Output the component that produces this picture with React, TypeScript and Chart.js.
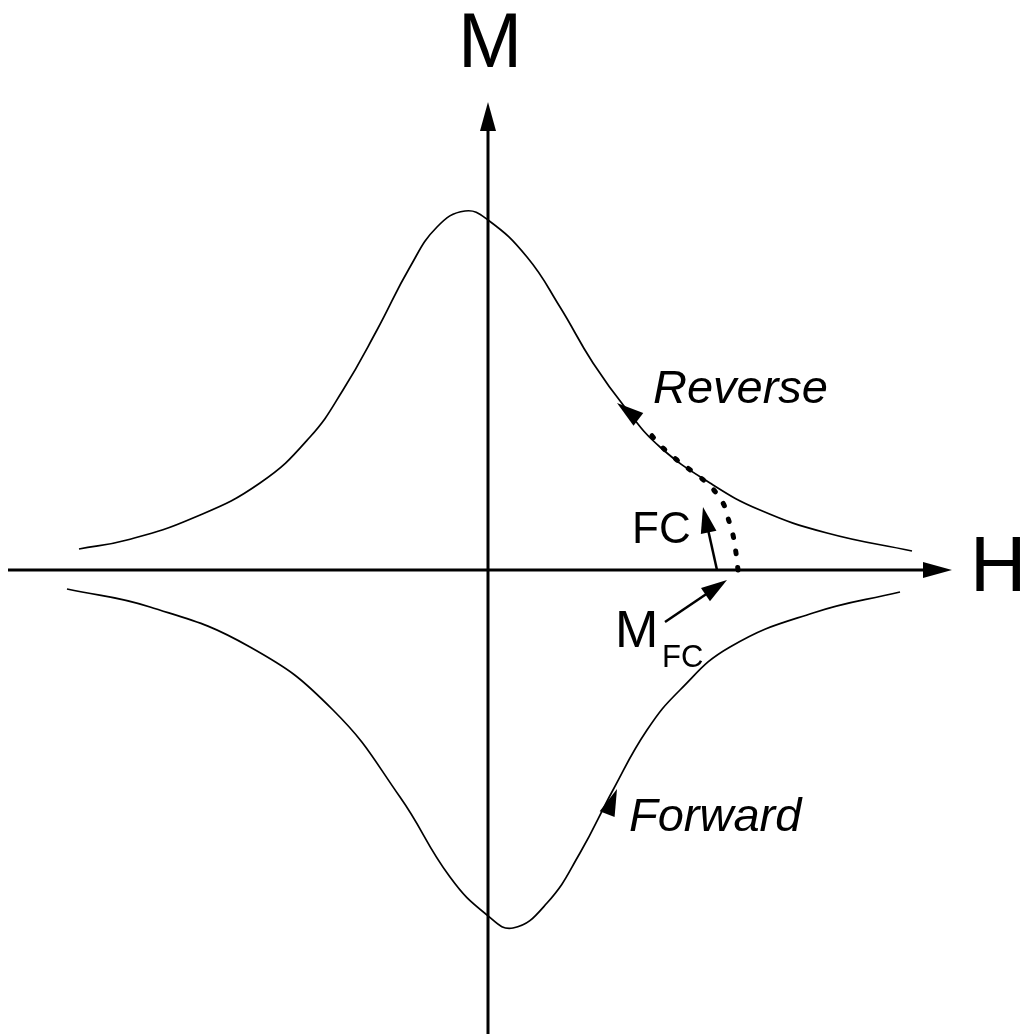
import React, { useEffect, useRef } from "react";
import { Chart, registerables } from "chart.js";

Chart.register(...registerables);

// Reverse branch (upper curve): H, M
const reverseH = [-4.09, -3.61, -2.95, -2.28, -1.78, -1.45, -1.11, -0.78, -0.51, -0.23, 0, 0.39, 0.72, 1.05, 1.39, 1.72, 2.22, 2.72, 3.39, 4.24];
const reverseM = [0.21, 0.3, 0.52, 0.87, 1.33, 1.8, 2.4, 3.03, 3.43, 3.59, 3.5, 3.13, 2.63, 2.07, 1.6, 1.23, 0.87, 0.6, 0.37, 0.19];

// Forward branch (lower curve): H, M
const forwardH = [-4.21, -3.38, -2.38, -1.55, -0.88, -0.38, -0.01, 0.25, 0.59, 0.92, 1.25, 1.59, 1.92, 2.42, 3.25, 4.12];
const forwardM = [-0.19, -0.37, -0.77, -1.4, -2.27, -3.07, -3.45, -3.58, -3.33, -2.83, -2.2, -1.6, -1.2, -0.77, -0.43, -0.22];

// Field-cooled (dotted) branch: H, M
const fcH = [2.5, 2.48, 2.45, 2.4, 2.35, 2.22, 2.05, 1.89, 1.72, 1.57];
const fcM = [0, 0.17, 0.35, 0.52, 0.67, 0.84, 0.98, 1.1, 1.25, 1.43];

// Axis extents
const hAxisRange = [-4.8, 4.64];
const mAxisRange = [-4.64, 4.68];

// Annotation arrows with shafts: [fromH, fromM, toH, toM]
const arrows = [
  [2.29, 0, 2.15, 0.63],
  [1.77, -0.52, 2.39, -0.1],
];
// Arrowheads sitting on the curves: [fromH, fromM, toH, toM]
const curveHeads = [
  [1.55, 1.47, 1.29, 1.67],
  [1.18, -2.47, 1.29, -2.19],
];

// Labels: text, H, M
const labelTexts = ["Reverse", "Forward", "FC", "M", "FC", "H", "M"];
const labelH = [1.65, 1.41, 1.44, 1.27, 1.74, 4.82, 0.02];
const labelM = [1.67, -2.61, 0.27, -0.77, -0.97, -0.21, 5.03];

const FONT = "'Liberation Sans', Arial, Helvetica, sans-serif";
const labelFonts = [
  `italic 47px ${FONT}`,
  `italic 47px ${FONT}`,
  `44px ${FONT}`,
  `52px ${FONT}`,
  `31px ${FONT}`,
  `78px ${FONT}`,
  `77px ${FONT}`,
];
const labelAlign: CanvasTextAlign[] = ["left", "left", "left", "left", "left", "left", "center"];

const zip = (xs: number[], ys: number[]) => xs.map((x, i) => ({ x, y: ys[i] }));

function drawHead(ctx: CanvasRenderingContext2D, fx: number, fy: number, tx: number, ty: number, len: number, hw: number) {
  const a = Math.atan2(ty - fy, tx - fx);
  const bx = tx - len * Math.cos(a);
  const by = ty - len * Math.sin(a);
  const nx = -Math.sin(a);
  const ny = Math.cos(a);
  ctx.beginPath();
  ctx.moveTo(tx, ty);
  ctx.lineTo(bx + nx * hw, by + ny * hw);
  ctx.lineTo(bx - nx * hw, by - ny * hw);
  ctx.closePath();
  ctx.fill();
}

const annotationPlugin = {
  id: "schematicAnnotations",
  afterDatasetsDraw(chart: any) {
    const { ctx, scales } = chart;
    const xs = scales.x;
    const ys = scales.y;
    const px = (v: number) => xs.getPixelForValue(v);
    const py = (v: number) => ys.getPixelForValue(v);
    ctx.save();
    ctx.fillStyle = "#000";
    ctx.strokeStyle = "#000";
    // axis arrowheads
    drawHead(ctx, px(0), py(0), px(hAxisRange[1]), py(0), 29, 8);
    drawHead(ctx, px(0), py(0), px(0), py(mAxisRange[1]), 29, 8);
    // annotation arrows
    ctx.lineWidth = 2.5;
    arrows.forEach(([fh, fm, th, tm]) => {
      const fx = px(fh), fy = py(fm), tx = px(th), ty = py(tm);
      const a = Math.atan2(ty - fy, tx - fx);
      ctx.beginPath();
      ctx.moveTo(fx, fy);
      ctx.lineTo(tx - 20 * Math.cos(a), ty - 20 * Math.sin(a));
      ctx.stroke();
      drawHead(ctx, fx, fy, tx, ty, 26, 8);
    });
    curveHeads.forEach(([fh, fm, th, tm]) => {
      drawHead(ctx, px(fh), py(fm), px(th), py(tm), 27, 8);
    });
    // labels
    ctx.textBaseline = "alphabetic";
    labelTexts.forEach((t, i) => {
      ctx.font = labelFonts[i];
      ctx.textAlign = labelAlign[i];
      ctx.fillText(t, px(labelH[i]), py(labelM[i]));
    });
    ctx.restore();
  },
};

export default function App() {
  const ref = useRef<HTMLCanvasElement>(null);
  useEffect(() => {
    if (!ref.current) return;
    const chart = new Chart(ref.current, {
      type: "scatter",
      data: {
        datasets: [
          {
            data: [{ x: hAxisRange[0], y: 0 }, { x: hAxisRange[1] - 0.1, y: 0 }],
            showLine: true,
            borderColor: "#000",
            borderWidth: 3,
            pointRadius: 0,
          },
          {
            data: [{ x: 0, y: mAxisRange[0] }, { x: 0, y: mAxisRange[1] - 0.1 }],
            showLine: true,
            borderColor: "#000",
            borderWidth: 3,
            pointRadius: 0,
          },
          {
            data: zip(reverseH, reverseM),
            showLine: true,
            borderColor: "#000",
            borderWidth: 1.7,
            pointRadius: 0,
            tension: 0.45,
          },
          {
            data: zip(forwardH, forwardM),
            showLine: true,
            borderColor: "#000",
            borderWidth: 1.7,
            pointRadius: 0,
            tension: 0.45,
          },
          {
            data: zip(fcH, fcM),
            showLine: true,
            borderColor: "#000",
            borderWidth: 5,
            borderDash: [2.5, 14],
            borderCapStyle: "round",
            pointRadius: 0,
            tension: 0.4,
          },
        ],
      },
      options: {
        animation: false,
        responsive: true,
        maintainAspectRatio: false,
        layout: { padding: 0 },
        plugins: { legend: { display: false }, tooltip: { enabled: false } },
        scales: {
          x: { type: "linear", min: -4.88, max: 5.33, display: false },
          y: { type: "linear", min: -4.64, max: 5.7, display: false },
        },
      },
      plugins: [annotationPlugin],
    } as any);
    return () => chart.destroy();
  }, []);
  return (
    <div style={{ position: "fixed", left: 0, top: 0, width: 1021, height: 1034, background: "#fff" }}>
      <canvas ref={ref} />
    </div>
  );
}
